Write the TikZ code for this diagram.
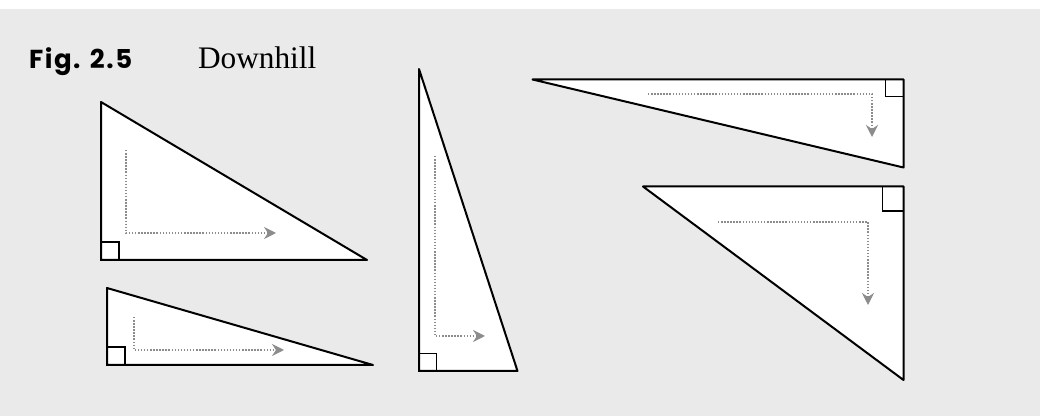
\documentclass[tikz,border=0pt]{standalone}
\usepackage{fontspec}
\setmainfont{Liberation Serif}
\newfontfamily\figfont[LetterSpace=6]{Poppins}
\usetikzlibrary{arrows.meta}
\begin{document}
\begin{tikzpicture}[x=.75pt,y=-.75pt,
  tri/.style={fill=white,draw=black,line width=1.5pt,line join=round},
  corner/.style={draw=black,line width=1.3pt},
  slide/.style={draw={rgb,255:red,140;green,140;blue,140},line width=1.4pt,dash pattern=on 1.1pt off 1.2pt,
    -{Stealth[length=9pt,width=9pt,inset=3pt,fill={rgb,255:red,140;green,140;blue,140}]}}]
\path[use as bounding box] (0,0) rectangle (1040,416);
\path[fill=white,draw=none] (0,0) rectangle (1040,9);
\path[fill={rgb,255:red,234;green,234;blue,234},draw=none] (0,9) rectangle (1040,416);
% caption
\node[inner sep=0pt,outer sep=0pt,anchor=base west,font=\figfont\bfseries\fontsize{19.5}{23}\selectfont] (fignum) at (29,68.3) {Fig. 2.5};
\node[inner sep=0pt,outer sep=0pt,anchor=base west,font=\fontsize{23.5}{28}\selectfont] (figtitle) at (198,68.3) {Downhill};
% left, upper
\path[tri] (101,102) -- (101,260) -- (367,260) -- cycle;
\draw[corner] (101,242) rectangle (119,260);
\draw[slide] (126,150) -- (126,233) -- (276,233);
% left, lower
\path[tri] (107,288) -- (107,365) -- (373,365) -- cycle;
\draw[corner] (107,347) rectangle (125,365);
\draw[slide] (134,317) -- (134,350) -- (284,350);
% middle, tall
\path[tri] (419,69) -- (419,371) -- (517.5,371) -- cycle;
\draw[corner] (419,353.5) rectangle (436.5,371);
\draw[slide] (435,156) -- (435,336) -- (485,336);
% right, upper
\path[tri] (532.5,79.5) -- (903.5,79.5) -- (903.5,167.5) -- cycle;
\draw[corner] (885.5,79.5) rectangle (903.5,96.5);
\draw[slide] (648,94) -- (872,94) -- (872,137);
% right, lower
\path[tri] (643,186.5) -- (903.5,186.5) -- (903.5,380) -- cycle;
\draw[corner] (882.5,186.5) rectangle (903.5,211);
\draw[slide] (718,222) -- (868,222) -- (868,305);
\end{tikzpicture}
\end{document}
